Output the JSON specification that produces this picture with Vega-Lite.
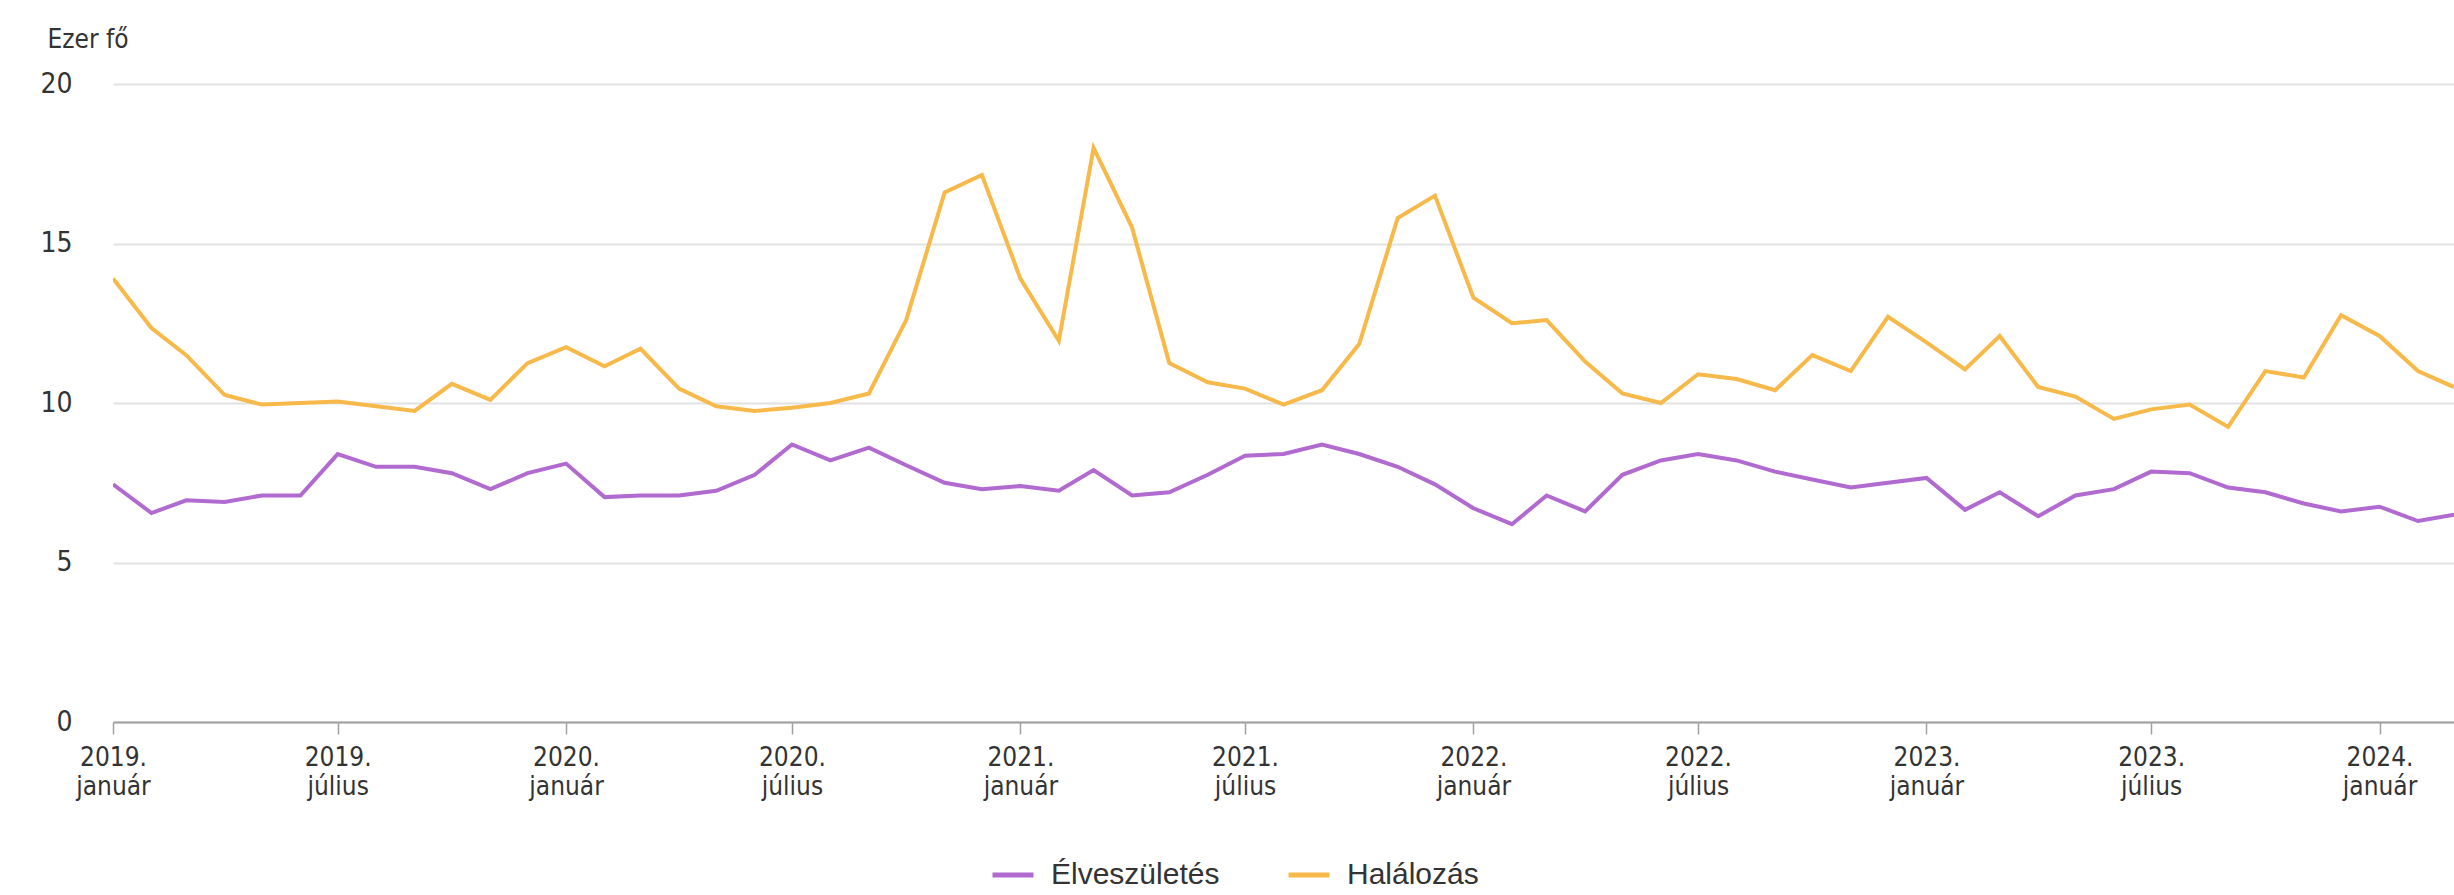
{
  "$schema": "https://vega.github.io/schema/vega-lite/v6.json",
  "autosize": {"type": "none"},
  "padding": {"left": 113, "top": 84, "right": 0, "bottom": 173},
  "width": 2341,
  "height": 638,
  "background": "#ffffff",
  "config": {
    "view": {"stroke": null},
    "font": "Liberation Sans",
    "axis": {"labelFont": "DejaVu Sans Condensed, Liberation Sans", "titleFont": "DejaVu Sans Condensed, Liberation Sans", "labelColor": "#333333", "titleColor": "#333333"},
    "legend": {"labelFont": "Liberation Sans"}
  },
  "data": {
    "values": [
      {"month": "2019-01-01", "Élveszületés": 7.45, "Halálozás": 13.9},
      {"month": "2019-02-01", "Élveszületés": 6.55, "Halálozás": 12.35},
      {"month": "2019-03-01", "Élveszületés": 6.95, "Halálozás": 11.5},
      {"month": "2019-04-01", "Élveszületés": 6.9, "Halálozás": 10.25},
      {"month": "2019-05-01", "Élveszületés": 7.1, "Halálozás": 9.95},
      {"month": "2019-06-01", "Élveszületés": 7.1, "Halálozás": 10.0},
      {"month": "2019-07-01", "Élveszületés": 8.4, "Halálozás": 10.05},
      {"month": "2019-08-01", "Élveszületés": 8.0, "Halálozás": 9.9},
      {"month": "2019-09-01", "Élveszületés": 8.0, "Halálozás": 9.75},
      {"month": "2019-10-01", "Élveszületés": 7.8, "Halálozás": 10.6},
      {"month": "2019-11-01", "Élveszületés": 7.3, "Halálozás": 10.1},
      {"month": "2019-12-01", "Élveszületés": 7.8, "Halálozás": 11.25},
      {"month": "2020-01-01", "Élveszületés": 8.1, "Halálozás": 11.75},
      {"month": "2020-02-01", "Élveszületés": 7.05, "Halálozás": 11.15},
      {"month": "2020-03-01", "Élveszületés": 7.1, "Halálozás": 11.7},
      {"month": "2020-04-01", "Élveszületés": 7.1, "Halálozás": 10.45},
      {"month": "2020-05-01", "Élveszületés": 7.25, "Halálozás": 9.9},
      {"month": "2020-06-01", "Élveszületés": 7.75, "Halálozás": 9.75},
      {"month": "2020-07-01", "Élveszületés": 8.7, "Halálozás": 9.85},
      {"month": "2020-08-01", "Élveszületés": 8.2, "Halálozás": 10.0},
      {"month": "2020-09-01", "Élveszületés": 8.6, "Halálozás": 10.3},
      {"month": "2020-10-01", "Élveszületés": 8.05, "Halálozás": 12.6},
      {"month": "2020-11-01", "Élveszületés": 7.5, "Halálozás": 16.6},
      {"month": "2020-12-01", "Élveszületés": 7.3, "Halálozás": 17.15},
      {"month": "2021-01-01", "Élveszületés": 7.4, "Halálozás": 13.9},
      {"month": "2021-02-01", "Élveszületés": 7.25, "Halálozás": 11.95},
      {"month": "2021-03-01", "Élveszületés": 7.9, "Halálozás": 18.0},
      {"month": "2021-04-01", "Élveszületés": 7.1, "Halálozás": 15.5},
      {"month": "2021-05-01", "Élveszületés": 7.2, "Halálozás": 11.25},
      {"month": "2021-06-01", "Élveszületés": 7.75, "Halálozás": 10.65},
      {"month": "2021-07-01", "Élveszületés": 8.35, "Halálozás": 10.45},
      {"month": "2021-08-01", "Élveszületés": 8.4, "Halálozás": 9.95},
      {"month": "2021-09-01", "Élveszületés": 8.7, "Halálozás": 10.4},
      {"month": "2021-10-01", "Élveszületés": 8.4, "Halálozás": 11.85},
      {"month": "2021-11-01", "Élveszületés": 8.0, "Halálozás": 15.8},
      {"month": "2021-12-01", "Élveszületés": 7.45, "Halálozás": 16.5},
      {"month": "2022-01-01", "Élveszületés": 6.7, "Halálozás": 13.3},
      {"month": "2022-02-01", "Élveszületés": 6.2, "Halálozás": 12.5},
      {"month": "2022-03-01", "Élveszületés": 7.1, "Halálozás": 12.6},
      {"month": "2022-04-01", "Élveszületés": 6.6, "Halálozás": 11.3},
      {"month": "2022-05-01", "Élveszületés": 7.75, "Halálozás": 10.3},
      {"month": "2022-06-01", "Élveszületés": 8.2, "Halálozás": 10.0},
      {"month": "2022-07-01", "Élveszületés": 8.4, "Halálozás": 10.9},
      {"month": "2022-08-01", "Élveszületés": 8.2, "Halálozás": 10.75},
      {"month": "2022-09-01", "Élveszületés": 7.85, "Halálozás": 10.4},
      {"month": "2022-10-01", "Élveszületés": 7.6, "Halálozás": 11.5},
      {"month": "2022-11-01", "Élveszületés": 7.35, "Halálozás": 11.0},
      {"month": "2022-12-01", "Élveszületés": 7.5, "Halálozás": 12.7},
      {"month": "2023-01-01", "Élveszületés": 7.65, "Halálozás": 11.9},
      {"month": "2023-02-01", "Élveszületés": 6.65, "Halálozás": 11.05},
      {"month": "2023-03-01", "Élveszületés": 7.2, "Halálozás": 12.1},
      {"month": "2023-04-01", "Élveszületés": 6.45, "Halálozás": 10.5},
      {"month": "2023-05-01", "Élveszületés": 7.1, "Halálozás": 10.2},
      {"month": "2023-06-01", "Élveszületés": 7.3, "Halálozás": 9.5},
      {"month": "2023-07-01", "Élveszületés": 7.85, "Halálozás": 9.8},
      {"month": "2023-08-01", "Élveszületés": 7.8, "Halálozás": 9.95},
      {"month": "2023-09-01", "Élveszületés": 7.35, "Halálozás": 9.25},
      {"month": "2023-10-01", "Élveszületés": 7.2, "Halálozás": 11.0},
      {"month": "2023-11-01", "Élveszületés": 6.85, "Halálozás": 10.8},
      {"month": "2023-12-01", "Élveszületés": 6.6, "Halálozás": 12.75},
      {"month": "2024-01-01", "Élveszületés": 6.75, "Halálozás": 12.1},
      {"month": "2024-02-01", "Élveszületés": 6.3, "Halálozás": 11.0},
      {"month": "2024-03-01", "Élveszületés": 6.5, "Halálozás": 10.5}
    ]
  },
  "transform": [
    {"fold": ["Élveszületés", "Halálozás"], "as": ["series", "value"]}
  ],
  "mark": {"type": "line", "strokeWidth": 4, "strokeJoin": "miter", "clip": true},
  "encoding": {
    "x": {
      "field": "month",
      "type": "temporal",
      "scale": {
        "type": "utc",
        "domain": [{"year": 2019, "month": 1, "date": 1, "utc": true}, {"year": 2024, "month": 3, "date": 1, "utc": true}]
      },
      "axis": {
        "title": null,
        "values": [
          {"year": 2019, "month": 1, "date": 1, "utc": true},
          {"year": 2019, "month": 7, "date": 1, "utc": true},
          {"year": 2020, "month": 1, "date": 1, "utc": true},
          {"year": 2020, "month": 7, "date": 1, "utc": true},
          {"year": 2021, "month": 1, "date": 1, "utc": true},
          {"year": 2021, "month": 7, "date": 1, "utc": true},
          {"year": 2022, "month": 1, "date": 1, "utc": true},
          {"year": 2022, "month": 7, "date": 1, "utc": true},
          {"year": 2023, "month": 1, "date": 1, "utc": true},
          {"year": 2023, "month": 7, "date": 1, "utc": true},
          {"year": 2024, "month": 1, "date": 1, "utc": true}
        ],
        "labelExpr": "[utcFormat(datum.value, '%Y') + '.', utcmonth(datum.value) == 0 ? 'január' : 'július']",
        "labelFontSize": 26,
        "labelLineHeight": 29,
        "labelPadding": 10,
        "labelAngle": 0,
        "labelAlign": "center",
        "labelBaseline": "top",
        "labelOverlap": false,
        "labelBound": false,
        "labelFlush": false,
        "grid": false,
        "domain": true,
        "domainColor": "#a0a0a0",
        "domainWidth": 2,
        "ticks": true,
        "tickColor": "#a0a0a0",
        "tickWidth": 1.5,
        "tickSize": 12
      }
    },
    "y": {
      "field": "value",
      "type": "quantitative",
      "scale": {"domain": [0, 20], "nice": false, "zero": true},
      "axis": {
        "title": "Ezer fő",
        "titleAngle": 0,
        "titleAlign": "right",
        "titleBaseline": "middle",
        "titleX": 15,
        "titleY": -45,
        "titleFontSize": 26,
        "titleFontWeight": "normal",
        "values": [0, 5, 10, 15, 20],
        "labelFontSize": 28,
        "labelPadding": 41,
        "domain": false,
        "ticks": false,
        "grid": true,
        "gridColor": "#e2e2e2",
        "gridWidth": 2
      }
    },
    "color": {
      "field": "series",
      "type": "nominal",
      "scale": {"domain": ["Élveszületés", "Halálozás"], "range": ["#b06ad0", "#f6b94a"]},
      "legend": {
        "title": null,
        "orient": "none",
        "direction": "horizontal",
        "legendX": 877,
        "legendY": 768,
        "symbolType": "stroke",
        "symbolSize": 1681,
        "symbolStrokeWidth": 5,
        "labelFontSize": 30,
        "labelLimit": 500,
        "labelColor": "#333333",
        "labelOffset": 15,
        "columnPadding": 58
      }
    }
  }
}
